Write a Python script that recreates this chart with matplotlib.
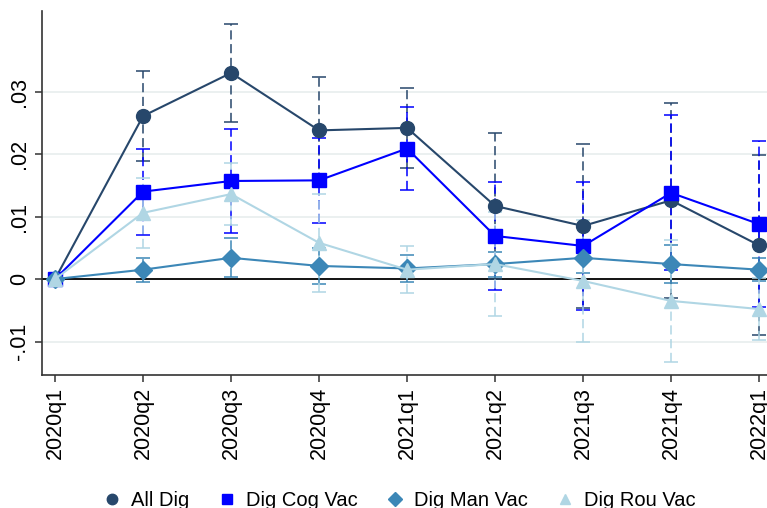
import numpy as np
import matplotlib.pyplot as plt

plt.rcParams['font.family'] = ['Liberation Sans', 'DejaVu Sans']

quarters = ["2020q1", "2020q2", "2020q3", "2020q4", "2021q1",
            "2021q2", "2021q3", "2021q4", "2022q1"]

all_dig = [0.0, 0.0261, 0.0330, 0.0238, 0.0242, 0.0117, 0.0085, 0.0126, 0.0054]
all_dig_ci = [0.0, 0.0072, 0.0078, 0.0085, 0.0064, 0.0117, 0.0132, 0.0156, 0.0144]

cog_vac = [0.0, 0.0140, 0.0157, 0.0158, 0.0209, 0.0069, 0.0053, 0.0138, 0.0088]
cog_vac_ci = [0.0, 0.0069, 0.0083, 0.0068, 0.0067, 0.0086, 0.0102, 0.0124, 0.0133]

man_vac = [0.0, 0.0015, 0.0034, 0.0021, 0.0017, 0.0024, 0.0034, 0.0024, 0.0015]
man_vac_ci = [0.0, 0.0019, 0.0031, 0.0029, 0.0022, 0.0020, 0.0025, 0.0030, 0.0018]

rou_vac = [0.0, 0.0106, 0.0136, 0.0058, 0.0015, 0.0024, -0.0003, -0.0035, -0.0048]
rou_vac_ci = [0.0, 0.0056, 0.0050, 0.0078, 0.0038, 0.0083, 0.0097, 0.0097, 0.0050]

series = [
    ("All Dig", all_dig, all_dig_ci, "#27476b", "o", 10),
    ("Dig Cog Vac", cog_vac, cog_vac_ci, "#0000ff", "s", 9.5),
    ("Dig Man Vac", man_vac, man_vac_ci, "#3c87b7", "D", 9),
    ("Dig Rou Vac", rou_vac, rou_vac_ci, "#b0d6e4", "^", 10),
]

fig = plt.figure(figsize=(7.67, 5.08), dpi=100)
ax = fig.add_axes([0.0548, 0.2618, 0.9452, 0.7164])

x = np.arange(len(quarters))

for y in [-0.01, 0.01, 0.02, 0.03]:
    ax.axhline(y, color="#e8eeee", lw=1.2, zorder=0)
ax.axhline(0, color="black", lw=1.3, zorder=1)

for name, vals, ci, col, mk, ms in series:
    vals = np.array(vals)
    ci = np.array(ci)
    eb = ax.errorbar(x, vals, yerr=ci, fmt="none", ecolor=col, elinewidth=1.1,
                     capsize=5, capthick=1.1, zorder=2)
    for lc in eb.lines[2]:
        lc.set_linestyle((0, (6, 3)))
    ax.plot(x, vals, color=col, lw=1.5, marker=mk, markersize=ms,
            markeredgecolor=col, zorder=3, label=name)

ax.set_xlim(-0.148, 8.09)
ax.set_ylim(-0.01536, 0.0429)
ax.set_xticks(x)
ax.set_xticklabels(quarters, rotation=90, fontsize=15.5)
ax.set_yticks([-0.01, 0, 0.01, 0.02, 0.03])
ax.set_yticklabels(["-.01", "0", ".01", ".02", ".03"], rotation=90,
                   va="center", fontsize=15.5)

for side in ["top", "right"]:
    ax.spines[side].set_visible(False)
for side in ["left", "bottom"]:
    ax.spines[side].set_color("#333333")
    ax.spines[side].set_linewidth(1.2)
ax.tick_params(direction="out", length=5, width=1.1, color="#333333")

leg_handles = [plt.Line2D([], [], ls="none", marker=mk, color=col, markersize=ms * 0.75)
               for _, _, _, col, mk, ms in series]
fig.legend(leg_handles, [s[0] for s in series], loc="center",
           bbox_to_anchor=(0.52, 0.014), ncol=4, frameon=False, fontsize=14.5,
           handlelength=1.0, handletextpad=0.45, columnspacing=1.35)

fig.savefig("out.png", dpi=100)
